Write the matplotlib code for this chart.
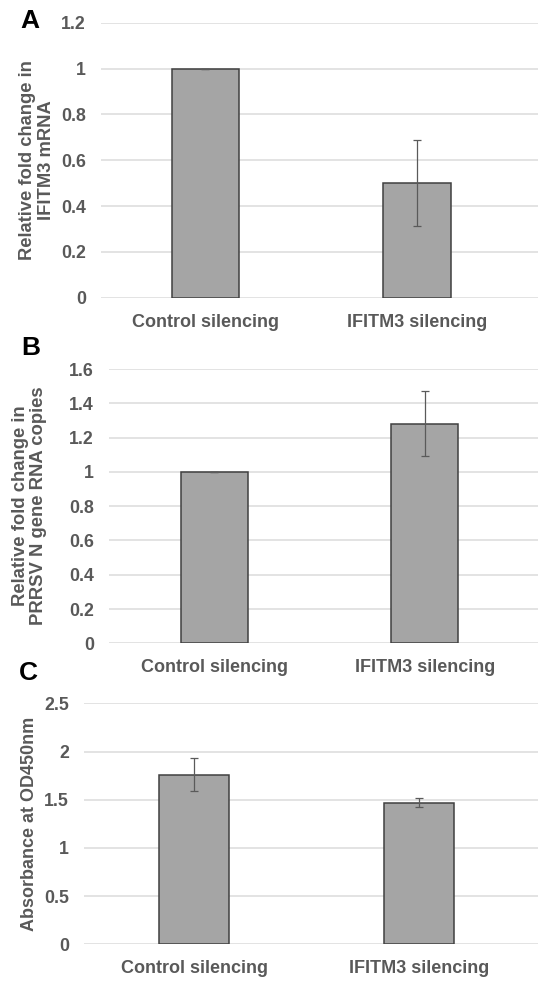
import matplotlib
matplotlib.use("Agg")
import matplotlib.pyplot as plt
import numpy as np

plt.rcParams['font.family'] = ['Liberation Sans', 'DejaVu Sans']

categories = ["Control silencing", "IFITM3 silencing"]

# Panel A
a_values = [1.0, 0.50]
a_errors = [0.0, 0.186]
a_yticks = [0, 0.2, 0.4, 0.6, 0.8, 1, 1.2]
a_yticklabels = ["0", "0.2", "0.4", "0.6", "0.8", "1", "1.2"]
a_ylabel = "Relative fold change in\nIFITM3 mRNA"

# Panel B
b_values = [1.0, 1.28]
b_errors = [0.0, 0.19]
b_yticks = [0, 0.2, 0.4, 0.6, 0.8, 1, 1.2, 1.4, 1.6]
b_yticklabels = ["0", "0.2", "0.4", "0.6", "0.8", "1", "1.2", "1.4", "1.6"]
b_ylabel = "Relative fold change in\nPRRSV N gene RNA copies"

# Panel C
c_values = [1.76, 1.47]
c_errors = [0.17, 0.047]
c_yticks = [0, 0.5, 1, 1.5, 2, 2.5]
c_yticklabels = ["0", "0.5", "1", "1.5", "2", "2.5"]
c_ylabel = "Absorbance at OD450nm"

W, H = 538, 981
DPI = 100
fig = plt.figure(figsize=(W / DPI, H / DPI), dpi=DPI)
fig.patch.set_facecolor("white")

TEXT = "#595959"
GRID = "#e3e3e3"
FILL = "#a5a5a5"
EDGE = "#404040"
ERR = "#5a5a5a"


def px_axes(left, top, right, bottom):
    return fig.add_axes([left / W, 1 - bottom / H, (right - left) / W, (bottom - top) / H])


def panel(box, values, errors, yticks, yticklabels, ylabel, xlim, width,
          letter, letter_xy, ylabel_x, ylabel_size):
    ax = px_axes(*box)
    x = np.arange(len(categories))
    ax.set_axisbelow(True)
    for t in yticks:
        ax.axhline(t, color=GRID, lw=1.4, zorder=0)
    ax.bar(x, values, width=width, color=FILL, edgecolor=EDGE, linewidth=1.1, zorder=2)
    ax.errorbar(x, values, yerr=errors, fmt="none", ecolor=ERR, elinewidth=0.9,
                capsize=3, capthick=0.9, zorder=3)
    ax.set_xlim(*xlim)
    ax.set_ylim(yticks[0], yticks[-1])
    ax.set_yticks(yticks)
    ax.set_yticklabels(yticklabels)
    ax.set_xticks(x)
    ax.set_xticklabels(categories)
    for s in ax.spines.values():
        s.set_visible(False)
    ax.tick_params(axis="both", length=0, colors=TEXT)
    ax.tick_params(axis="y", pad=10.8, labelsize=12.8)
    ax.tick_params(axis="x", pad=11.5, labelsize=13)
    for lab in ax.get_xticklabels() + ax.get_yticklabels():
        lab.set_fontweight("bold")
    ax.set_ylabel(ylabel, color=TEXT, fontsize=ylabel_size, fontweight="bold",
                  linespacing=1.1, va="center", ha="center")
    ax.yaxis.set_label_coords((ylabel_x - box[0]) / (box[2] - box[0]), 0.5)
    fig.text(letter_xy[0] / W, 1 - letter_xy[1] / H, letter, fontsize=19,
             fontweight="bold", color="black", ha="center", va="center")
    return ax


panel((101, 22.7, 538, 297.7), a_values, a_errors, a_yticks, a_yticklabels, a_ylabel,
      (-0.494, 1.572), 0.317, "A", (30, 20.5), 37, 13.2)
panel((109, 369, 538, 643.3), b_values, b_errors, b_yticks, b_yticklabels, b_ylabel,
      (-0.5, 1.537), 0.318, "B", (30.5, 348), 29.5, 13.3)
panel((84, 703.3, 538, 944.3), c_values, c_errors, c_yticks, c_yticklabels, c_ylabel,
      (-0.49, 1.53), 0.31, "C", (28.5, 672.5), 30, 13.0)

fig.savefig("out.png", dpi=DPI, facecolor="white")
